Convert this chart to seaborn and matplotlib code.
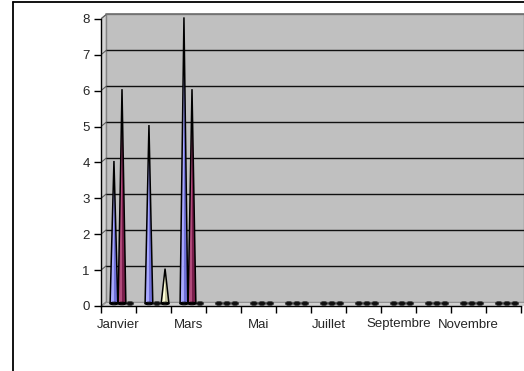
import matplotlib
matplotlib.use("Agg")
import matplotlib.pyplot as plt
from matplotlib.lines import Line2D
from matplotlib.patches import Ellipse, Polygon
import pandas as pd
import seaborn as sns

# Data
mois = ["Janvier", "Février", "Mars", "Avril", "Mai", "Juin", "Juillet",
        "Août", "Septembre", "Octobre", "Novembre", "Décembre"]
serie1 = [4, 5, 8, 0, 0, 0, 0, 0, 0, 0, 0, 0]
serie2 = [6, 0, 6, 0, 0, 0, 0, 0, 0, 0, 0, 0]
serie3 = [0, 1, 0, 0, 0, 0, 0, 0, 0, 0, 0, 0]
y_ticks = [0, 1, 2, 3, 4, 5, 6, 7, 8]

df = pd.DataFrame({"Mois": mois, "S1": serie1, "S2": serie2, "S3": serie3})
long = df.melt(id_vars="Mois", var_name="Serie", value_name="Valeur")

# style: (light half, dark half)
couleurs = {"S1": ("#a8a8ff", "#6f6fd8"),
            "S2": ("#b04a7a", "#7a1f4c"),
            "S3": ("#ffffd8", "#c8c8a0")}
offsets = {"S1": 0.37, "S2": 0.60, "S3": 0.83}

sns.set_theme(style="white")
plt.rcParams["font.family"] = ["Liberation Sans", "DejaVu Sans"]

W, H = 524, 371
fig = plt.figure(figsize=(W / 100, H / 100), dpi=100)
ax = fig.add_axes([101 / W, (H - 306) / H, 423 / W, 293 / H])

xmax = 423 / 35
ymax = 293 / 35.9
ax.set_xlim(0, xmax)
ax.set_ylim(0, ymax)

dx, dy = 0.15, 0.12
nmois = len(mois)

# walls
ax.add_patch(Polygon([(dx, dy), (xmax, dy), (xmax, 8 + dy), (dx, 8 + dy)],
                     closed=True, fc="#c0c0c0", ec="#808080", lw=1, zorder=0))
ax.add_patch(Polygon([(0, 0), (dx, dy), (dx, 8 + dy), (0, 8)],
                     closed=True, fc="#d4d4d4", ec="#808080", lw=0.8, zorder=0))
ax.add_patch(Polygon([(0, 0), (xmax, 0), (xmax, dy), (dx, dy)],
                     closed=True, fc="#d0d0d0", ec="#909090", lw=0.6, zorder=0))
for k in y_ticks[1:-1]:
    ax.plot([dx, xmax], [k + dy, k + dy], color="#101010", lw=1, zorder=1)
for k in y_ticks[1:]:
    ax.plot([0, dx], [k, k + dy], color="#606060", lw=0.8, zorder=1)
ax.plot([dx, xmax], [8 + dy, 8 + dy], color="#707070", lw=1.2, zorder=1)

# cones
hw = 0.11
base = 0.07
for _, r in long.iterrows():
    i = mois.index(r["Mois"])
    xc = i + offsets[r["Serie"]]
    v = r["Valeur"]
    light, dark = couleurs[r["Serie"]]
    if v == 0:
        ax.add_patch(Ellipse((xc, base), 0.21, 0.11, fc="#101010", ec="#404040",
                             lw=0.5, zorder=3))
    else:
        top = v + 0.04
        ax.add_patch(Polygon([(xc - hw, base), (xc, top), (xc, base)],
                             closed=True, fc=light, ec="none", zorder=4))
        ax.add_patch(Polygon([(xc, base), (xc, top), (xc + hw, base)],
                             closed=True, fc=dark, ec="none", zorder=4))
        ax.add_patch(Polygon([(xc - hw, base), (xc, top), (xc + hw, base)],
                             closed=True, fc="none", ec="black", lw=1.1, zorder=5))
        ax.add_patch(Ellipse((xc, base), 2 * hw, 0.07, fc=dark, ec="black",
                             lw=0.8, zorder=4))

# axes
for s in ["top", "right"]:
    ax.spines[s].set_visible(False)
ax.spines["left"].set_bounds(0, 8)
ax.spines["bottom"].set_bounds(0, nmois)
for s in ["left", "bottom"]:
    ax.spines[s].set_color("black")
    ax.spines[s].set_linewidth(1)
    ax.spines[s].set_zorder(6)

ax.set_yticks(y_ticks)
ax.set_yticklabels([str(t) for t in y_ticks])
ax.set_xticks(range(nmois + 1), minor=False)
ax.set_xticklabels([""] * (nmois + 1))
ax.set_xticks([i + 0.5 for i in range(0, nmois, 2)], minor=True)
ax.set_xticklabels([mois[i] for i in range(0, nmois, 2)], minor=True)
ax.tick_params(axis="both", which="major", direction="out", length=5, width=1,
               color="black", labelsize=9.5, pad=3, left=True, bottom=True)
ax.tick_params(axis="x", which="minor", length=0, labelsize=9.5, pad=9)
ax.grid(False)

# outer frame (cropped chart area)
fig.add_artist(Line2D([13 / W, 13 / W], [0, 1 - 1.5 / H], color="black", lw=1.3))
fig.add_artist(Line2D([13 / W, 1], [1 - 1.5 / H, 1 - 1.5 / H], color="black", lw=1.3))

fig.savefig("out.png", dpi=100)
